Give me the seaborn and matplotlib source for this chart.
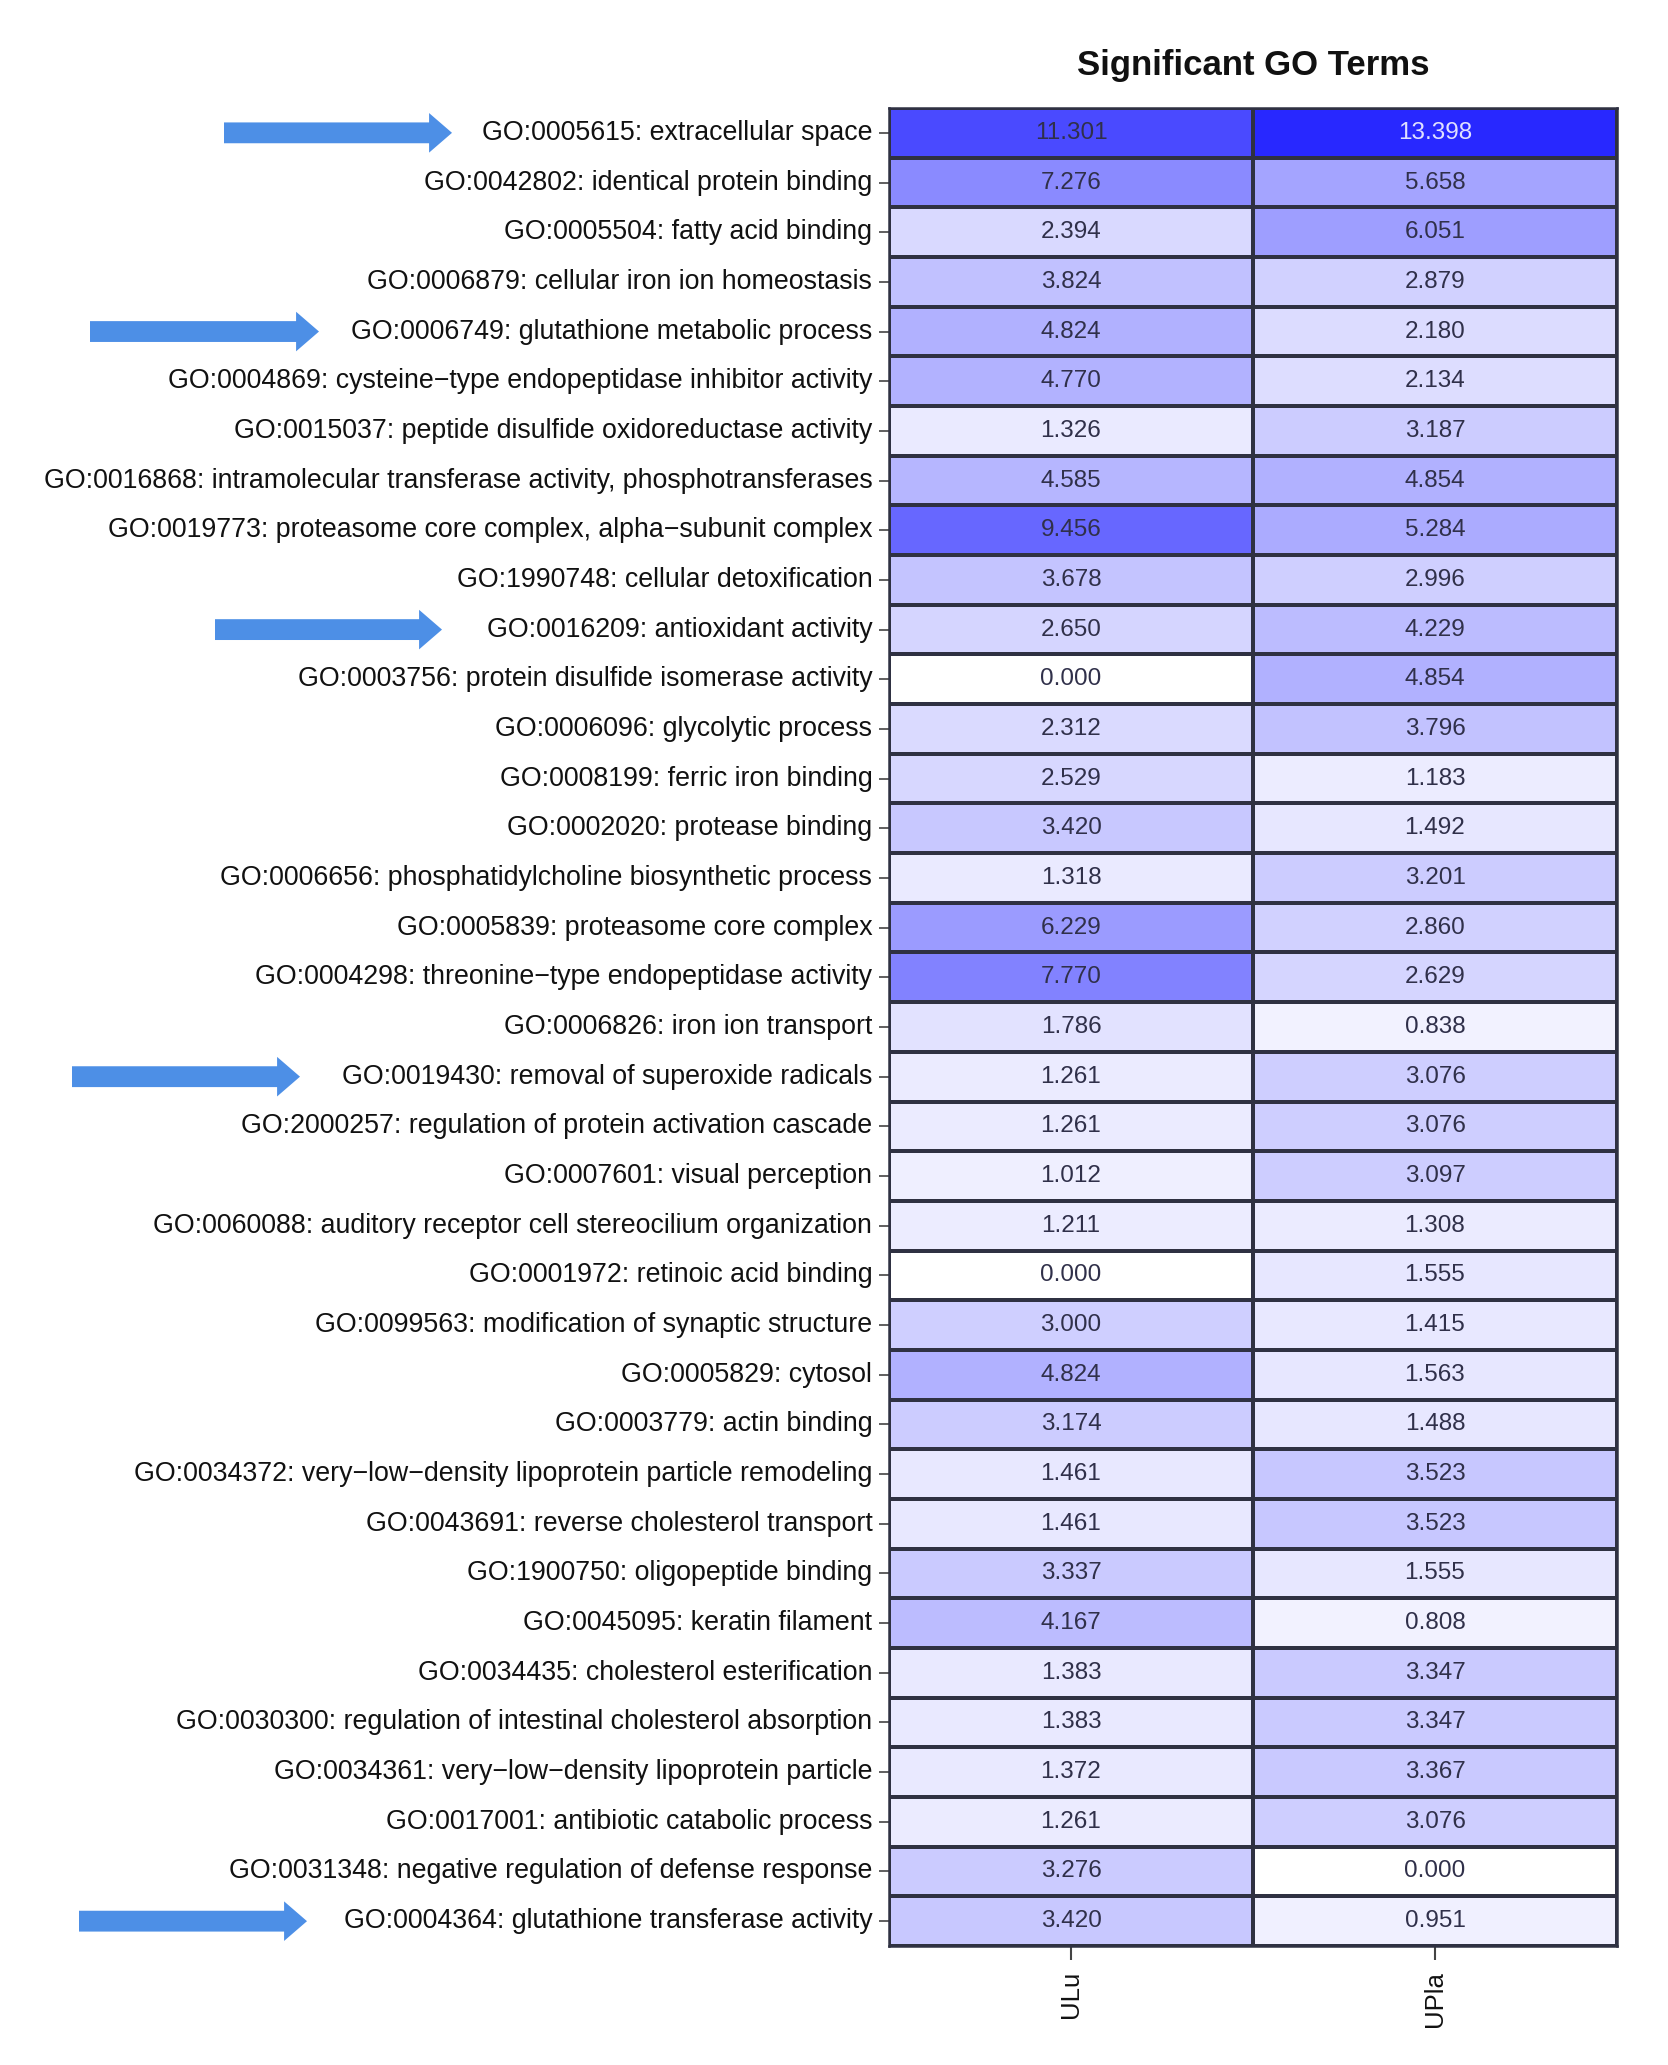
import numpy as np
import pandas as pd
import seaborn as sns
import matplotlib
matplotlib.use("Agg")
import matplotlib.pyplot as plt
from matplotlib.colors import LinearSegmentedColormap
from matplotlib.transforms import blended_transform_factory

terms = [
    "GO:0005615: extracellular space",
    "GO:0042802: identical protein binding",
    "GO:0005504: fatty acid binding",
    "GO:0006879: cellular iron ion homeostasis",
    "GO:0006749: glutathione metabolic process",
    "GO:0004869: cysteine\u2212type endopeptidase inhibitor activity",
    "GO:0015037: peptide disulfide oxidoreductase activity",
    "GO:0016868: intramolecular transferase activity, phosphotransferases",
    "GO:0019773: proteasome core complex, alpha\u2212subunit complex",
    "GO:1990748: cellular detoxification",
    "GO:0016209: antioxidant activity",
    "GO:0003756: protein disulfide isomerase activity",
    "GO:0006096: glycolytic process",
    "GO:0008199: ferric iron binding",
    "GO:0002020: protease binding",
    "GO:0006656: phosphatidylcholine biosynthetic process",
    "GO:0005839: proteasome core complex",
    "GO:0004298: threonine\u2212type endopeptidase activity",
    "GO:0006826: iron ion transport",
    "GO:0019430: removal of superoxide radicals",
    "GO:2000257: regulation of protein activation cascade",
    "GO:0007601: visual perception",
    "GO:0060088: auditory receptor cell stereocilium organization",
    "GO:0001972: retinoic acid binding",
    "GO:0099563: modification of synaptic structure",
    "GO:0005829: cytosol",
    "GO:0003779: actin binding",
    "GO:0034372: very\u2212low\u2212density lipoprotein particle remodeling",
    "GO:0043691: reverse cholesterol transport",
    "GO:1900750: oligopeptide binding",
    "GO:0045095: keratin filament",
    "GO:0034435: cholesterol esterification",
    "GO:0030300: regulation of intestinal cholesterol absorption",
    "GO:0034361: very\u2212low\u2212density lipoprotein particle",
    "GO:0017001: antibiotic catabolic process",
    "GO:0031348: negative regulation of defense response",
    "GO:0004364: glutathione transferase activity",
]

samples = ["ULu", "UPla"]

ulu = [11.301, 7.276, 2.394, 3.824, 4.824, 4.770, 1.326, 4.585, 9.456, 3.678,
       2.650, 0.000, 2.312, 2.529, 3.420, 1.318, 6.229, 7.770, 1.786, 1.261,
       1.261, 1.012, 1.211, 0.000, 3.000, 4.824, 3.174, 1.461, 1.461, 3.337,
       4.167, 1.383, 1.383, 1.372, 1.261, 3.276, 3.420]

upla = [13.398, 5.658, 6.051, 2.879, 2.180, 2.134, 3.187, 4.854, 5.284, 2.996,
        4.229, 4.854, 3.796, 1.183, 1.492, 3.201, 2.860, 2.629, 0.838, 3.076,
        3.076, 3.097, 1.308, 1.555, 1.415, 1.563, 1.488, 3.523, 3.523, 1.555,
        0.808, 3.347, 3.347, 3.367, 3.076, 0.000, 0.951]

highlighted = [
    "GO:0005615: extracellular space",
    "GO:0006749: glutathione metabolic process",
    "GO:0016209: antioxidant activity",
    "GO:0019430: removal of superoxide radicals",
    "GO:0004364: glutathione transferase activity",
]

df = pd.DataFrame({"ULu": ulu, "UPla": upla}, index=terms)[samples]

sns.set_theme(style="white")
plt.rcParams["font.family"] = ["Liberation Sans", "DejaVu Sans"]

W, H = 1668, 2065
fig = plt.figure(figsize=(W / 100, H / 100), dpi=100)
left, right, top, bottom = 889, 1617, 108, 1946
ax = fig.add_axes([left / W, 1 - bottom / H, (right - left) / W, (bottom - top) / H])

cmap = LinearSegmentedColormap.from_list("wb", ["#ffffff", "#2828ff"])
sns.heatmap(df, ax=ax, cmap=cmap, vmin=0, vmax=13.398, annot=True, fmt=".3f",
            annot_kws={"fontsize": 17.5, "color": "#30304a"},
            linewidths=1.6, linecolor="#2f3142", cbar=False)

for t in ax.texts:
    try:
        if float(t.get_text()) > 12:
            t.set_color("#e0e0ff")
    except ValueError:
        pass

for s in ax.spines.values():
    s.set_visible(True)
    s.set_color("#2f3142")
    s.set_linewidth(1.8)

ax.tick_params(axis="y", left=True, length=7, width=1.2, color="#444444",
               labelsize=19.3, pad=5, labelcolor="#111111")
ax.tick_params(axis="x", bottom=True, length=10, width=1.5, color="#444444",
               labelsize=18.5, pad=8, labelcolor="#111111")
ax.set_yticklabels(ax.get_yticklabels(), rotation=0)
ax.set_xticklabels(ax.get_xticklabels(), rotation=90)
ax.set_xlabel("")
ax.set_ylabel("")

fig.text((left + right) / 2 / W, 1 - 66 / H, "Significant GO Terms",
         ha="center", va="center", fontsize=25, fontweight="bold", color="#111111")

# arrows pointing at highlighted terms
arrow_x = {
    "GO:0005615: extracellular space": (224, 452),
    "GO:0006749: glutathione metabolic process": (90, 319),
    "GO:0016209: antioxidant activity": (215, 442),
    "GO:0019430: removal of superoxide radicals": (72, 300),
    "GO:0004364: glutathione transferase activity": (79, 307),
}
trans = blended_transform_factory(fig.transFigure, ax.transData)
for term in highlighted:
    i = terms.index(term)
    x0, x1 = arrow_x[term]
    ax.annotate("", xy=(x1 / W, i + 0.5), xycoords=trans,
                xytext=(x0 / W, i + 0.5), textcoords=trans,
                arrowprops=dict(arrowstyle="simple,head_length=1.1,head_width=1.9,tail_width=1.0",
                                mutation_scale=15, color="#4d8fe6", lw=0,
                                shrinkA=0, shrinkB=0),
                annotation_clip=False)

fig.savefig("out.png", dpi=100, facecolor="white")
